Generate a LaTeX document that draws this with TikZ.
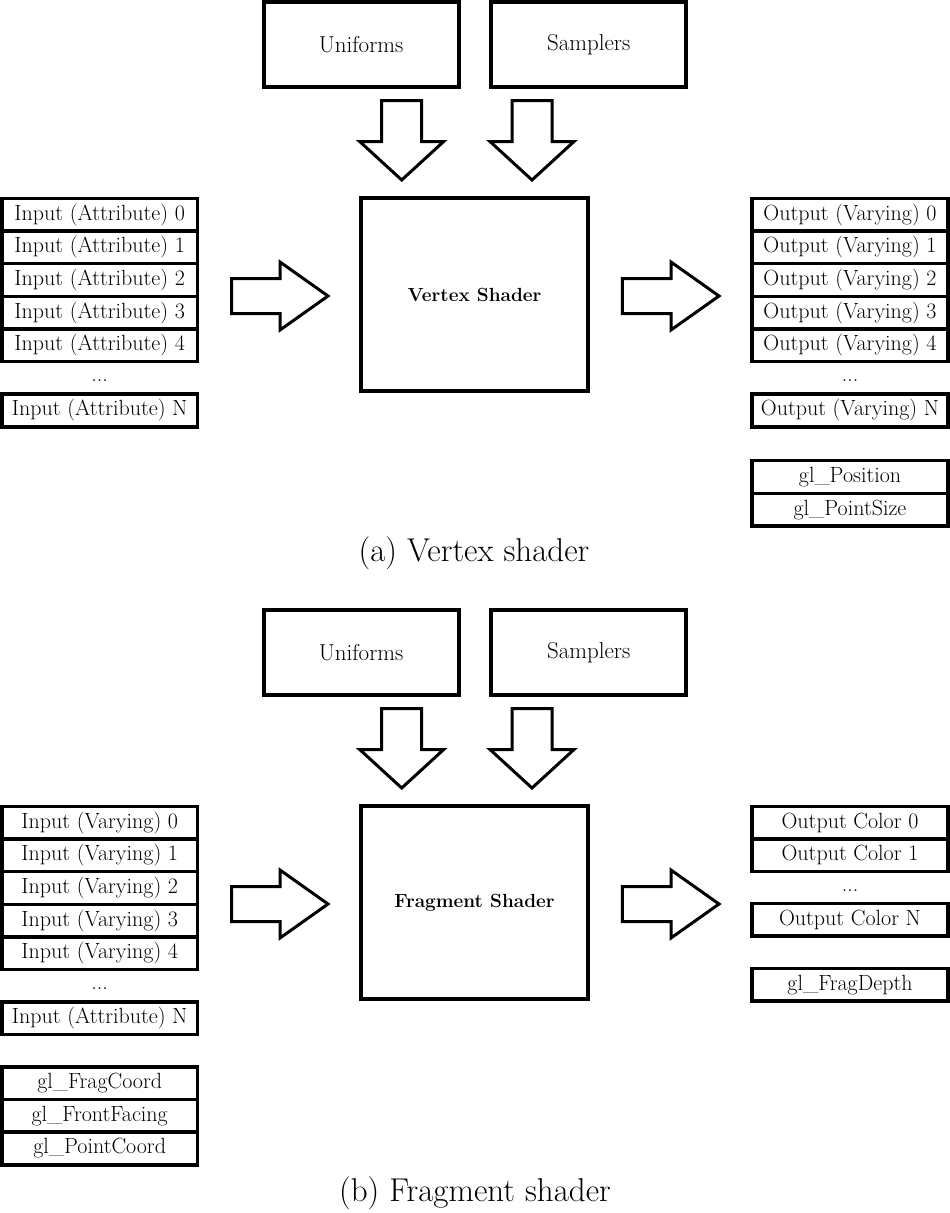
\documentclass[tikz,border=0pt]{standalone}
\usetikzlibrary{calc}
\begin{document}
\begin{tikzpicture}[x=1pt,y=-1pt,
  bigbox/.style={draw, line width=4pt, inner sep=0pt, font=\fontsize{23}{26}\selectfont},
  shaderbox/.style={draw, line width=4pt, inner sep=0pt, font=\fontsize{19}{22}\selectfont\bfseries},
  rowbox/.style={draw, line width=3.5pt, inner sep=0pt, minimum height=32.6pt, font=\fontsize{22}{24}\selectfont},
  lrow/.style={rowbox, minimum width=195.5pt},
  rrow/.style={rowbox, minimum width=196pt},
  dots/.style={inner sep=0pt, font=\fontsize{22}{24}\selectfont},
  blockarrow/.style={draw, line width=3pt, line join=miter, fill=white},
  caption/.style={inner sep=0pt, font=\fontsize{33}{38}\selectfont}
]
\useasboundingbox (0,0) rectangle (950,1213);

% ---------- (a) Vertex shader ----------
\node[bigbox, minimum width=195pt, minimum height=85pt] (uniA) at (361.2,44.5) {Uniforms};
\node[bigbox, minimum width=195pt, minimum height=85pt] (samA) at (588.7,44.5) {Samplers};
\node[shaderbox, minimum width=227pt, minimum height=192.5pt] (vs) at (474.5,294.7) {Vertex Shader};

\node[lrow] (ia0) at (99.7,214.8) {Input (Attribute) 0};
\node[lrow] (ia1) at (99.7,247.4) {Input (Attribute) 1};
\node[lrow] (ia2) at (99.7,280.0) {Input (Attribute) 2};
\node[lrow] (ia3) at (99.7,312.6) {Input (Attribute) 3};
\node[lrow] (ia4) at (99.7,345.2) {Input (Attribute) 4};
\node[dots] (iadots) at (99.7,381) {...};
\node[lrow] (iaN) at (99.7,410.5) {Input (Attribute) N};

\node[rrow] (ov0) at (850,214.8) {Output (Varying) 0};
\node[rrow] (ov1) at (850,247.4) {Output (Varying) 1};
\node[rrow] (ov2) at (850,280.0) {Output (Varying) 2};
\node[rrow] (ov3) at (850,312.6) {Output (Varying) 3};
\node[rrow] (ov4) at (850,345.2) {Output (Varying) 4};
\node[dots] (ovdots) at (850,381) {...};
\node[rrow] (ovN) at (850,410.5) {Output (Varying) N};
\node[rrow] (glpos) at (850,477) {gl\_Position};
\node[rrow] (glps) at (850,509.6) {gl\_PointSize};

% block arrows
\draw[blockarrow] (381.7,100.5) -- (421.7,100.5) -- (421.7,141.5) -- (443.7,141.5) -- (401.7,180) -- (359.7,141.5) -- (381.7,141.5) -- cycle;
\draw[blockarrow] (512,100.5) -- (552,100.5) -- (552,141.5) -- (574,141.5) -- (532,180) -- (490,141.5) -- (512,141.5) -- cycle;
\draw[blockarrow] (231.5,278.5) -- (280,278.5) -- (280,262) -- (328,296) -- (280,330) -- (280,313.5) -- (231.5,313.5) -- cycle;
\draw[blockarrow] (622.3,278.5) -- (671,278.5) -- (671,262) -- (719,296) -- (671,330) -- (671,313.5) -- (622.3,313.5) -- cycle;

\node[caption] (capA) at (474,553) {(a) Vertex shader};

% ---------- (b) Fragment shader ----------
\begin{scope}[yshift=-608pt]
\node[bigbox, minimum width=195pt, minimum height=85pt] (uniB) at (361.2,44.5) {Uniforms};
\node[bigbox, minimum width=195pt, minimum height=85pt] (samB) at (588.7,44.5) {Samplers};
\node[shaderbox, minimum width=227pt, minimum height=192.5pt] (fs) at (474.5,294.7) {Fragment Shader};

\node[lrow] (iv0) at (99.7,214.8) {Input (Varying) 0};
\node[lrow] (iv1) at (99.7,247.4) {Input (Varying) 1};
\node[lrow] (iv2) at (99.7,280.0) {Input (Varying) 2};
\node[lrow] (iv3) at (99.7,312.6) {Input (Varying) 3};
\node[lrow] (iv4) at (99.7,345.2) {Input (Varying) 4};
\node[dots] (ivdots) at (99.7,381) {...};
\node[lrow] (ivN) at (99.7,410.3) {Input (Attribute) N};
\node[lrow] (glfc) at (99.7,475.3) {gl\_FragCoord};
\node[lrow] (glff) at (99.7,507.9) {gl\_FrontFacing};
\node[lrow] (glpc) at (99.7,540.5) {gl\_PointCoord};

\node[rrow] (oc0) at (850,214.8) {Output Color 0};
\node[rrow] (oc1) at (850,247.4) {Output Color 1};
\node[dots] (ocdots) at (850,283) {...};
\node[rrow] (ocN) at (850,311.7) {Output Color N};
\node[rrow] (glfd) at (850,376.7) {gl\_FragDepth};

\draw[blockarrow] (381.7,100.5) -- (421.7,100.5) -- (421.7,141.5) -- (443.7,141.5) -- (401.7,180) -- (359.7,141.5) -- (381.7,141.5) -- cycle;
\draw[blockarrow] (512,100.5) -- (552,100.5) -- (552,141.5) -- (574,141.5) -- (532,180) -- (490,141.5) -- (512,141.5) -- cycle;
\draw[blockarrow] (231.5,278.5) -- (280,278.5) -- (280,262) -- (328,296) -- (280,330) -- (280,313.5) -- (231.5,313.5) -- cycle;
\draw[blockarrow] (622.3,278.5) -- (671,278.5) -- (671,262) -- (719,296) -- (671,330) -- (671,313.5) -- (622.3,313.5) -- cycle;
\end{scope}

\node[caption] (capB) at (475,1193) {(b) Fragment shader};
\end{tikzpicture}
\end{document}
